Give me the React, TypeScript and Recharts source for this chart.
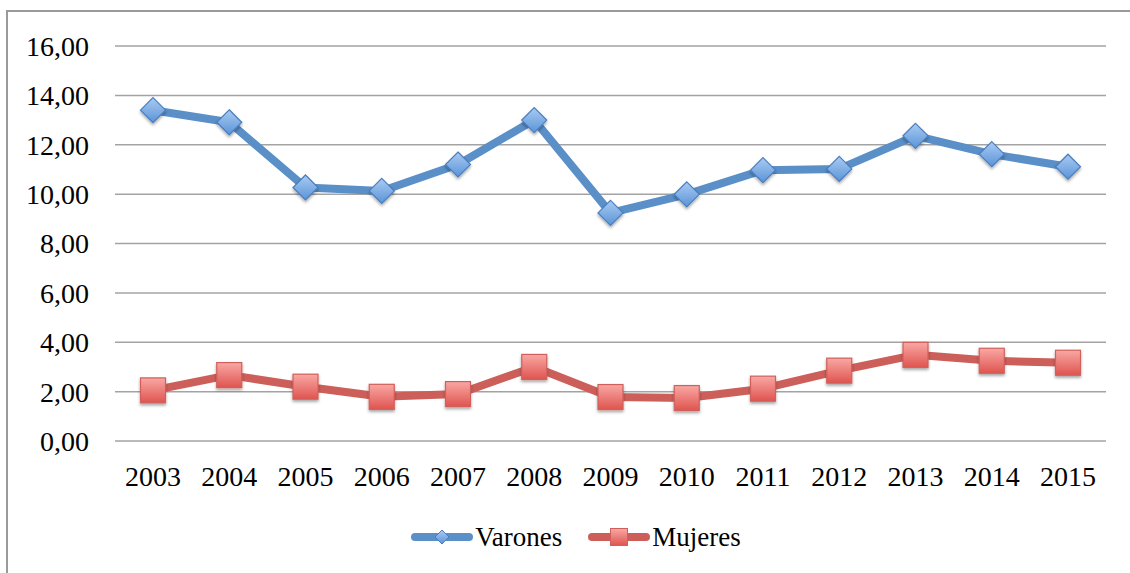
import React from 'react';
import { LineChart, Line, XAxis, YAxis, CartesianGrid, Legend } from 'recharts';

const years = ['2003', '2004', '2005', '2006', '2007', '2008', '2009', '2010', '2011', '2012', '2013', '2014', '2015'];
const varones = [13.4, 12.91, 10.27, 10.13, 11.2, 13.0, 9.24, 9.99, 10.97, 11.02, 12.36, 11.62, 11.11];
const mujeres = [2.05, 2.67, 2.2, 1.79, 1.9, 3.0, 1.78, 1.74, 2.12, 2.85, 3.49, 3.25, 3.17];
const yTicks = [0, 2, 4, 6, 8, 10, 12, 14, 16];
const seriesNames = ['Varones', 'Mujeres'];

const data = years.map((y, i) => ({ year: y, Varones: varones[i], Mujeres: mujeres[i] }));

const FONT = '"Liberation Serif", "Times New Roman", serif';
const BLUE_LINE = '#5A8FC8';
const RED_LINE = '#CD5F5A';
const DIAMOND_R = 12.5;
const SQUARE_HALF = 12.5;

const Diamond = (props: any) => {
  const { cx, cy, index } = props;
  if (cx == null || cy == null) return <g key={`dv-${index}`} />;
  const r = DIAMOND_R;
  const pts = `${cx},${cy - r} ${cx + r},${cy} ${cx},${cy + r} ${cx - r},${cy}`;
  return (
    <g key={`dv-${index}`}>
      <polygon points={pts} fill="url(#gradBlue)" stroke="#4A7EBF" strokeWidth={1.2} filter="url(#shadow)" />
    </g>
  );
};

const Square = (props: any) => {
  const { cx, cy, index } = props;
  if (cx == null || cy == null) return <g key={`sq-${index}`} />;
  const s = SQUARE_HALF;
  return (
    <g key={`sq-${index}`}>
      <rect x={cx - s} y={cy - s} width={2 * s} height={2 * s} fill="url(#gradRed)" stroke="#D0605B" strokeWidth={1.2} filter="url(#shadow)" />
    </g>
  );
};

const LegendIcon = ({ kind }: { kind: 'diamond' | 'square' }) => (
  <svg width={62} height={26} style={{ display: 'block' }}>
    <line x1={4} y1={13} x2={58} y2={13} stroke={kind === 'diamond' ? BLUE_LINE : RED_LINE} strokeWidth={8} strokeLinecap="round" />
    {kind === 'diamond' ? (
      <polygon points="31,6 38,13 31,20 24,13" fill="url(#gradBlue)" stroke="#4A7EBF" strokeWidth={1} />
    ) : (
      <rect x={22.5} y={4.5} width={17} height={17} fill="url(#gradRed)" stroke="#D0605B" strokeWidth={1} />
    )}
  </svg>
);

const renderLegend = () => (
  <div
    style={{
      height: 40,
      display: 'flex',
      alignItems: 'center',
      justifyContent: 'center',
      paddingLeft: 46,
      boxSizing: 'border-box',
      fontFamily: FONT,
      fontSize: 27,
      color: '#000',
    }}
  >
    <div style={{ display: 'flex', alignItems: 'center', marginRight: 26 }}>
      <LegendIcon kind="diamond" />
      <span style={{ marginLeft: 2 }}>{seriesNames[0]}</span>
    </div>
    <div style={{ display: 'flex', alignItems: 'center' }}>
      <LegendIcon kind="square" />
      <span style={{ marginLeft: 2 }}>{seriesNames[1]}</span>
    </div>
  </div>
);

export default function App() {
  return (
    <div style={{ position: 'absolute', left: 0, top: 0, width: 1130, height: 573, overflow: 'hidden', background: '#fff' }}>
      <svg width={0} height={0} style={{ position: 'absolute' }}>
        <defs>
          <linearGradient id="gradBlue" x1="0" y1="0" x2="0" y2="1">
            <stop offset="0%" stopColor="#AACBF2" />
            <stop offset="100%" stopColor="#5A94D8" />
          </linearGradient>
          <linearGradient id="gradRed" x1="0" y1="0" x2="0" y2="1">
            <stop offset="0%" stopColor="#F9A8A4" />
            <stop offset="100%" stopColor="#DF544F" />
          </linearGradient>
          <filter id="shadow" x="-50%" y="-50%" width="200%" height="200%">
            <feDropShadow dx="0" dy="2" stdDeviation="1.5" floodColor="#000" floodOpacity="0.35" />
          </filter>
        </defs>
      </svg>
      <div
        style={{
          position: 'absolute',
          left: 6,
          top: 10,
          width: 1200,
          height: 700,
          border: '2px solid #9A9A9A',
          boxSizing: 'border-box',
        }}
      />
      <div style={{ position: 'absolute', left: 0, top: 0 }}>
        <LineChart width={1130} height={573} data={data} margin={{ top: 46, right: 24, left: 0, bottom: 16 }}>
          <CartesianGrid vertical={false} stroke="#A3A3A3" strokeWidth={1.5} />
          <XAxis
            dataKey="year"
            axisLine={false}
            tickLine={false}
            tickSize={0}
            tickMargin={25}
            height={76}
            padding={{ left: 38, right: 38 }}
            tick={{ fontFamily: FONT, fontSize: 28, fill: '#000' }}
            interval={0}
          />
          <YAxis
            width={115}
            domain={[0, 16]}
            ticks={yTicks}
            axisLine={false}
            tickLine={false}
            tickSize={0}
            tickMargin={26}
            tickFormatter={(v: number) => v.toFixed(2).replace('.', ',')}
            tick={{ fontFamily: FONT, fontSize: 28, fill: '#000' }}
          />
          <Legend verticalAlign="bottom" height={40} content={renderLegend} />
          <Line
            type="linear"
            dataKey="Varones"
            stroke={BLUE_LINE}
            strokeWidth={8}
            strokeLinejoin="round"
            dot={(p: any) => <Diamond {...p} />}
            activeDot={false}
            isAnimationActive={false}
          />
          <Line
            type="linear"
            dataKey="Mujeres"
            stroke={RED_LINE}
            strokeWidth={8}
            strokeLinejoin="round"
            dot={(p: any) => <Square {...p} />}
            activeDot={false}
            isAnimationActive={false}
          />
        </LineChart>
      </div>
    </div>
  );
}
